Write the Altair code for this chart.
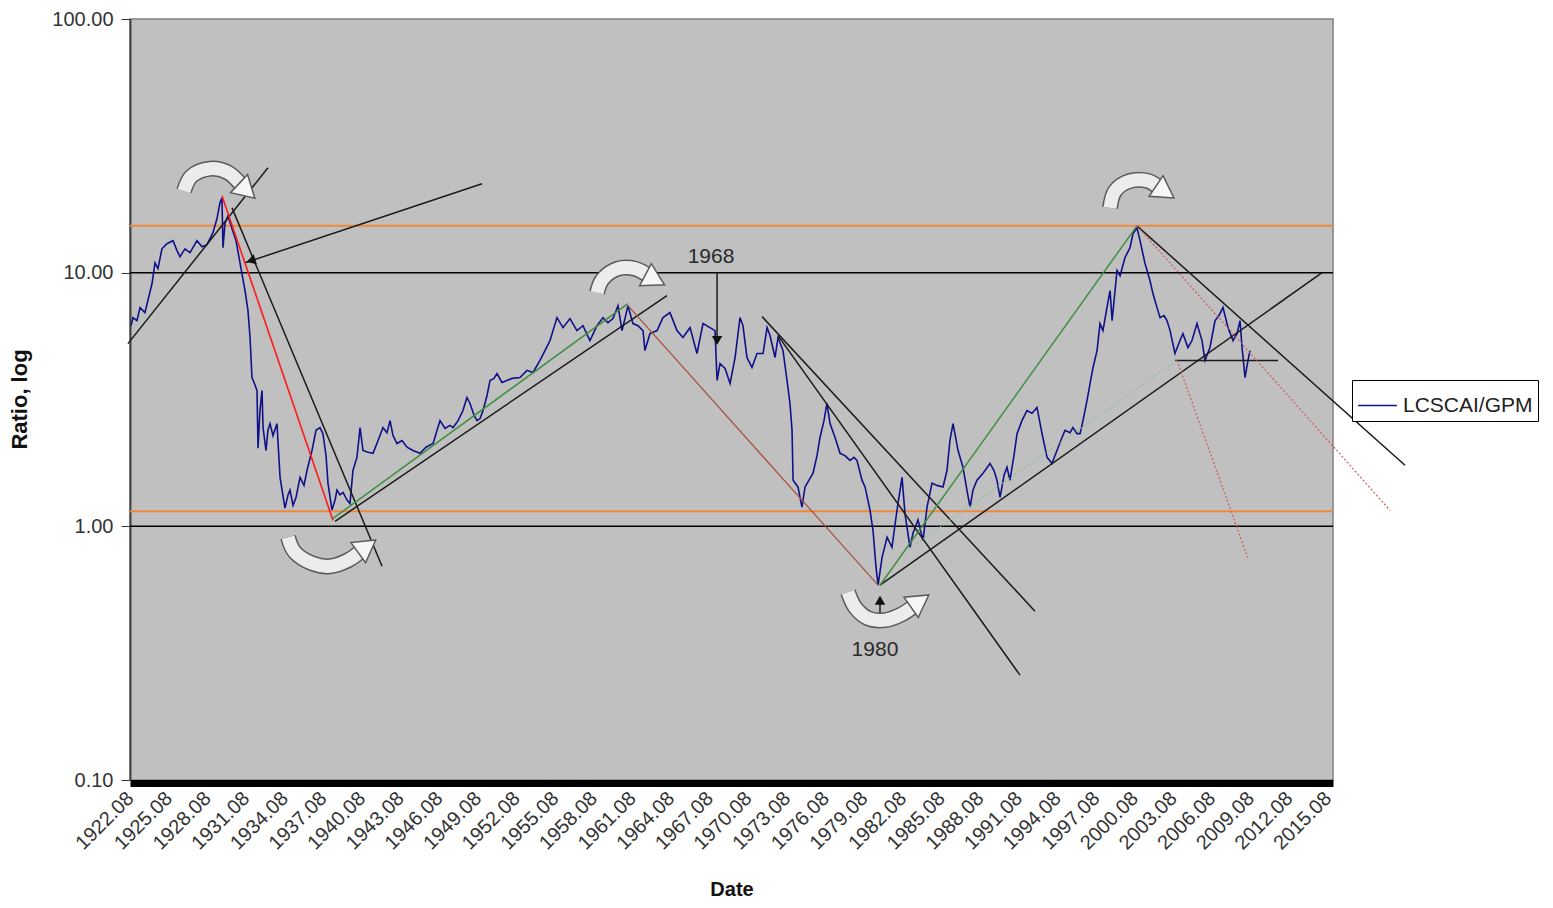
import altair as alt
import pandas as pd

# ---------------- data ----------------
years = [
    1922.66, 1922.81, 1923.12, 1923.36, 1923.74, 1924.06, 1924.29, 1924.52, 1924.75, 1925.06,
    1925.45, 1925.92, 1926.23, 1926.46, 1926.85, 1927.24, 1927.78, 1928.17, 1928.56, 1929.02,
    1929.33, 1929.57, 1929.72, 1929.80, 1929.96, 1930.19, 1930.50, 1930.81, 1931.12, 1931.51,
    1931.74, 1931.90, 1932.05, 1932.21, 1932.44, 1932.52, 1932.67, 1932.83, 1932.91, 1933.14,
    1933.29, 1933.45, 1933.68, 1933.99, 1934.23, 1934.61, 1934.85, 1935.00, 1935.24, 1935.47,
    1935.78, 1936.09, 1936.32, 1936.71, 1937.02, 1937.33, 1937.56, 1937.80, 1937.95, 1938.26,
    1938.50, 1938.65, 1938.88, 1939.12, 1939.43, 1939.66, 1939.89, 1940.20, 1940.44, 1940.67,
    1941.06, 1941.45, 1941.84, 1942.22, 1942.53, 1942.77, 1943.00, 1943.31, 1943.70, 1944.09,
    1944.55, 1945.10, 1945.56, 1946.11, 1946.42, 1946.65, 1947.04, 1947.42, 1947.66, 1948.05,
    1948.43, 1948.74, 1948.98, 1949.29, 1949.52, 1949.76, 1949.99, 1950.30, 1950.53, 1950.84,
    1951.07, 1951.46, 1951.85, 1952.24, 1952.86, 1953.40, 1953.87, 1954.41, 1954.80, 1955.19,
    1955.73, 1956.20, 1956.74, 1957.28, 1957.75, 1958.29, 1958.84, 1959.30, 1959.69, 1960.08,
    1960.47, 1960.78, 1961.01, 1961.24, 1961.63, 1962.02, 1962.41, 1962.56, 1962.95, 1963.50,
    1963.96, 1964.50, 1965.05, 1965.51, 1966.06, 1966.60, 1967.07, 1967.61, 1968.00, 1968.16,
    1968.39, 1968.78, 1969.17, 1969.56, 1969.94, 1970.17, 1970.48, 1970.87, 1971.26, 1971.73,
    1972.04, 1972.27, 1972.66, 1972.89, 1973.28, 1973.59, 1973.82, 1973.98, 1974.06, 1974.44,
    1974.75, 1974.99, 1975.30, 1975.61, 1975.92, 1976.15, 1976.46, 1976.69, 1976.93, 1977.32,
    1977.71, 1978.09, 1978.48, 1978.79, 1979.02, 1979.41, 1979.65, 1980.03, 1980.27, 1980.50,
    1980.66, 1980.97, 1981.36, 1981.74, 1982.13, 1982.52, 1982.75, 1983.14, 1983.37, 1983.76,
    1984.15, 1984.46, 1984.85, 1985.23, 1985.70, 1986.01, 1986.24, 1986.48, 1986.87, 1987.25,
    1987.56, 1987.80, 1988.03, 1988.34, 1988.81, 1989.35, 1989.66, 1989.89, 1990.13, 1990.44,
    1990.67, 1990.90, 1991.21, 1991.45, 1991.83, 1992.22, 1992.61, 1993.00, 1993.39, 1993.78,
    1994.16, 1994.55, 1994.94, 1995.17, 1995.56, 1995.79, 1996.10, 1996.34, 1996.57, 1996.88,
    1997.12, 1997.35, 1997.66, 1997.89, 1998.12, 1998.43, 1998.67, 1998.83, 1999.21, 1999.45,
    1999.83, 2000.22, 2000.45, 2000.76, 2001.00, 2001.39, 2001.77, 2002.00, 2002.32, 2002.55,
    2002.86, 2003.09, 2003.33, 2003.71, 2004.10, 2004.33, 2004.72, 2005.03, 2005.42, 2005.81,
    2006.04, 2006.43, 2006.82, 2007.13, 2007.44, 2007.83, 2008.22, 2008.53, 2008.76, 2008.92,
    2009.15, 2009.38, 2009.54,
]
ratios = [
    6.18, 6.65, 6.47, 7.28, 6.96, 8.12, 9.06, 10.94, 10.37, 12.42,
    13.0, 13.37, 12.22, 11.56, 12.42, 12.0, 13.37, 12.65, 12.9, 14.37,
    16.3, 18.9, 19.7, 12.55, 15.7, 16.76, 14.9, 13.37, 10.94, 8.5,
    7.08, 5.55, 3.86, 3.69, 3.43, 2.03, 2.86, 3.43, 2.45, 1.99,
    2.39, 2.54, 2.28, 2.54, 1.56, 1.18, 1.33, 1.39, 1.21, 1.30,
    1.56, 1.45, 1.66, 1.99, 2.39, 2.45, 2.32, 1.90, 1.48, 1.16,
    1.27, 1.39, 1.33, 1.36, 1.27, 1.23, 1.66, 1.87, 2.45, 1.99,
    1.96, 1.94, 2.18, 2.45, 2.34, 2.61, 2.28, 2.12, 2.18, 2.05,
    1.99, 1.94, 2.05, 2.12, 2.39, 2.61, 2.43, 2.50, 2.45, 2.61,
    2.86, 3.22, 3.05, 2.74, 2.61, 2.66, 2.86, 3.28, 3.76, 3.83,
    4.0, 3.69, 3.76, 3.83, 3.86, 4.12, 4.04, 4.51, 4.93, 5.40,
    6.65, 6.07, 6.59, 5.91, 6.18, 5.40, 6.18, 6.65, 6.35, 6.59,
    7.41, 5.91, 6.59, 7.41, 6.30, 6.18, 5.91, 4.93, 5.75, 5.91,
    6.65, 6.96, 5.91, 5.55, 6.07, 4.80, 6.30, 6.07, 5.91, 3.76,
    4.38, 4.19, 3.66, 4.63, 6.65, 6.18, 4.63, 4.23, 4.80, 4.80,
    6.07, 5.65, 4.63, 5.55, 4.93, 3.76, 3.05, 2.39, 1.52, 1.43,
    1.19, 1.43, 1.52, 1.62, 1.90, 2.24, 2.61, 3.05, 2.54, 2.24,
    1.94, 1.90, 1.82, 1.87, 1.82, 1.52, 1.43, 1.16, 0.96, 0.69,
    0.586, 0.755, 0.906, 0.827, 1.16, 1.56, 1.12, 0.827, 0.94, 1.06,
    0.88, 1.19, 1.48, 1.45, 1.43, 1.66, 2.18, 2.54, 1.99, 1.71,
    1.39, 1.19, 1.39, 1.52, 1.62, 1.77, 1.66, 1.52, 1.30, 1.59,
    1.71, 1.52, 1.90, 2.32, 2.61, 2.86, 2.79, 2.94, 2.32, 1.87,
    1.77, 1.99, 2.24, 2.39, 2.34, 2.45, 2.32, 2.32, 2.61, 3.13,
    3.66, 4.23, 4.93, 6.30, 5.91, 7.28, 8.5, 6.47, 10.2, 9.73,
    11.46, 12.55, 14.25, 15.0, 13.37, 10.84, 9.31, 8.27, 7.28, 6.65,
    6.78, 6.47, 5.91, 4.80, 5.40, 5.75, 5.07, 5.40, 6.30, 5.40,
    4.51, 5.07, 6.47, 6.78, 7.28, 6.07, 5.40, 5.75, 6.47, 5.07,
    3.86, 4.51, 4.93,
]
series_name = "LCSCAI/GPM"

tick_years = list(range(1922, 2016, 3))
y_ticks = [0.1, 1.0, 10.0, 100.0]
grid_levels = [1.0, 10.0]
band_levels = [15.3, 1.146]

# straight black trend lines and arrow shafts (start year, start value, end year, end value)
black_x0 = [1922.42, 1949.91, 1930.50, 1938.50, 1971.65, 1972.89, 1980.81, 2000.76, 2003.71, 1968.16, 1980.81]
black_v0 = [5.25, 22.4, 18.0, 1.047, 6.71, 5.65, 0.586, 15.3, 4.51, 10.0, 0.427]
black_x1 = [1933.29, 1931.51, 1942.15, 1964.27, 1992.84, 1991.68, 2015.13, 2021.57, 2011.71, 1968.16, 1980.81]
black_v1 = [25.9, 10.94, 0.696, 8.12, 0.463, 0.259, 10.0, 1.74, 4.51, 5.4, 0.511]

red_x0, red_v0, red_x1, red_v1 = [1929.72], [20.1], [1938.34], [1.056]
brown_x0, brown_v0, brown_x1, brown_v1 = [1961.24], [7.41], [1980.66], [0.586]
green_x0 = [1938.34, 1980.81]
green_v0 = [1.074, 0.586]
green_x1 = [1961.24, 2000.76]
green_v1 = [7.55, 15.3]
gdot_x0, gdot_v0, gdot_x1, gdot_v1 = [1983.14], [0.819], [2003.87], [4.51]
rdot_x0 = [2000.76, 2003.87]
rdot_v0 = [15.3, 4.51]
rdot_x1 = [2020.41, 2009.38]
rdot_v1 = [1.156, 0.748]

# filled black arrow heads
head_x = [1931.97, 1968.16, 1980.81]
head_v = [11.15, 5.4, 0.511]
head_angle = [252, 180, 0]

# curved block arrows (annotation shapes)
arc_id = [1] * 5 + [2] * 6 + [3] * 5 + [4] * 6 + [5] * 5
arc_x = [1926.77, 1927.39, 1928.79, 1930.19, 1931.28,
         1934.85, 1935.39, 1936.71, 1938.11, 1939.51, 1940.59,
         1958.84, 1959.30, 1960.47, 1961.79, 1962.95,
         1978.33, 1978.87, 1979.88, 1981.20, 1982.52, 1983.53,
         1998.67, 1999.06, 2000.22, 2001.62, 2002.55]
arc_v = [21.0, 24.1, 25.7, 24.8, 22.0,
         0.906, 0.790, 0.715, 0.696, 0.735, 0.805,
         8.34, 9.47, 10.37, 10.37, 9.65,
         0.550, 0.480, 0.434, 0.427, 0.451, 0.489,
         18.0, 21.0, 23.0, 23.0, 21.4]
arc_head_x = [1931.66, 1940.98, 1963.34, 1983.91, 2002.94]
arc_head_v = [21.0, 0.834, 9.38, 0.507, 20.8]
arc_head_angle = [133, 54, 118, 55, 124]

note_text = ["1968", "1980"]
note_x = [1967.69, 1980.42]
note_v = [11.56, 0.325]

# ---------------- chart ----------------
FONT = "Liberation Sans"
xscale = alt.Scale(domain=[1922.58, 2015.98], nice=False, zero=False)
yscale = alt.Scale(type="log", domain=[0.1, 100], nice=False)

series_df = pd.DataFrame({"year": years, "ratio": ratios, "series": series_name})

x_axis = alt.Axis(
    values=[y + 0.58 for y in tick_years],
    labelExpr="floor(datum.value) + '.08'",
    labelAngle=-45, labelAlign="right", labelBaseline="middle",
    labelFontSize=20, labelColor="#333", labelOverlap=False, labelFlush=False,
    labelPadding=12, ticks=False, domainColor="black", domainWidth=7, offset=3,
    grid=False, title="Date", titleFontSize=20, titleFontWeight="bold",
    titleColor="#111", titleY=96,
)
y_axis = alt.Axis(
    values=y_ticks, format=".2f", labelFontSize=20, labelColor="#333",
    tickSize=9, tickColor="#333", labelPadding=8, domainColor="#444",
    domainWidth=2, grid=False, title="Ratio, log", titleFontSize=22,
    titleFontWeight="bold", titleColor="#111", titleX=-99, titleY=380,
)


def X(field):
    return alt.X(field, scale=xscale, axis=x_axis)


def Y(field):
    return alt.Y(field, scale=yscale, axis=y_axis)


series = alt.Chart(series_df).mark_line(strokeWidth=1.6).encode(
    x=X("year:Q"),
    y=Y("ratio:Q"),
    color=alt.Color(
        "series:N",
        scale=alt.Scale(domain=[series_name], range=["#10108a"]),
        legend=alt.Legend(
            title=None, orient="none", legendX=1222, legendY=361,
            symbolType="stroke", symbolSize=1500, symbolStrokeWidth=1.5,
            labelFontSize=21, labelColor="#222", labelFont=FONT,
            strokeColor="black", fillColor="white", padding=5, labelOffset=5,
        ),
    ),
)


def hrules(levels, color, width):
    return alt.Chart(pd.DataFrame({"level": levels})).mark_rule(
        color=color, strokeWidth=width
    ).encode(y=Y("level:Q"))


def segments(x0, v0, x1, v1, color, width, dash=None):
    df = pd.DataFrame({"x0": x0, "v0": v0, "x1": x1, "v1": v1})
    kw = dict(color=color, strokeWidth=width)
    if dash is not None:
        kw["strokeDash"] = dash
    return alt.Chart(df).mark_rule(**kw).encode(
        x=X("x0:Q"), y=Y("v0:Q"), x2="x1:Q", y2="v1:Q",
    )


grid = hrules(grid_levels, "black", 1.5)
bands = hrules(band_levels, "#f0883c", 2)

black = segments(black_x0, black_v0, black_x1, black_v1, "#1a1a1a", 1.5)
red = segments(red_x0, red_v0, red_x1, red_v1, "#ff1a1a", 1.6)
brown = segments(brown_x0, brown_v0, brown_x1, brown_v1, "#a8503c", 1.2)
green = segments(green_x0, green_v0, green_x1, green_v1, "#3f8f3f", 1.5)
gdot = segments(gdot_x0, gdot_v0, gdot_x1, gdot_v1, "#93bf93", 1.2, [2, 2])
rdot = segments(rdot_x0, rdot_v0, rdot_x1, rdot_v1, "#d05a5a", 1.2, [2, 2])

heads = alt.Chart(pd.DataFrame({"x": head_x, "v": head_v, "a": head_angle})).mark_point(
    shape="triangle-up", filled=True, color="#111", size=110, opacity=1
).encode(x=X("x:Q"), y=Y("v:Q"), angle=alt.Angle("a:Q", scale=None))

arc_df = pd.DataFrame({"id": arc_id, "x": arc_x, "v": arc_v, "seq": list(range(len(arc_x)))})
arc_outline = alt.Chart(arc_df).mark_line(
    interpolate="cardinal", color="#5a5a5a", strokeWidth=16, strokeCap="butt"
).encode(x=X("x:Q"), y=Y("v:Q"), detail="id:N", order="seq:Q")
arc_fill = alt.Chart(arc_df).mark_line(
    interpolate="cardinal", color="#ececec", strokeWidth=13, strokeCap="butt"
).encode(x=X("x:Q"), y=Y("v:Q"), detail="id:N", order="seq:Q")
arc_heads = alt.Chart(
    pd.DataFrame({"x": arc_head_x, "v": arc_head_v, "a": arc_head_angle})
).mark_point(
    shape="triangle-up", filled=True, fill="#f6f6f6", stroke="#5a5a5a",
    strokeWidth=1.5, size=620, opacity=1
).encode(x=X("x:Q"), y=Y("v:Q"), angle=alt.Angle("a:Q", scale=None))

notes = alt.Chart(pd.DataFrame({"t": note_text, "x": note_x, "v": note_v})).mark_text(
    font=FONT, fontSize=21, color="#2a2a2a", align="center", baseline="middle"
).encode(x=X("x:Q"), y=Y("v:Q"), text="t:N")

chart = alt.layer(
    grid, bands, series, black, red, brown, green, gdot, rdot,
    arc_outline, arc_fill, arc_heads, heads, notes
).properties(
    width=1203, height=761,
    padding={"left": 122, "top": 11, "right": 210, "bottom": 120},
    autosize=alt.AutoSizeParams(type="none"),
).configure(
    font=FONT,
).configure_view(
    fill="#c0c0c0", stroke="#808080", strokeWidth=1.5,
)

chart.save("out.html", embed_options={"renderer": "svg", "actions": False})
